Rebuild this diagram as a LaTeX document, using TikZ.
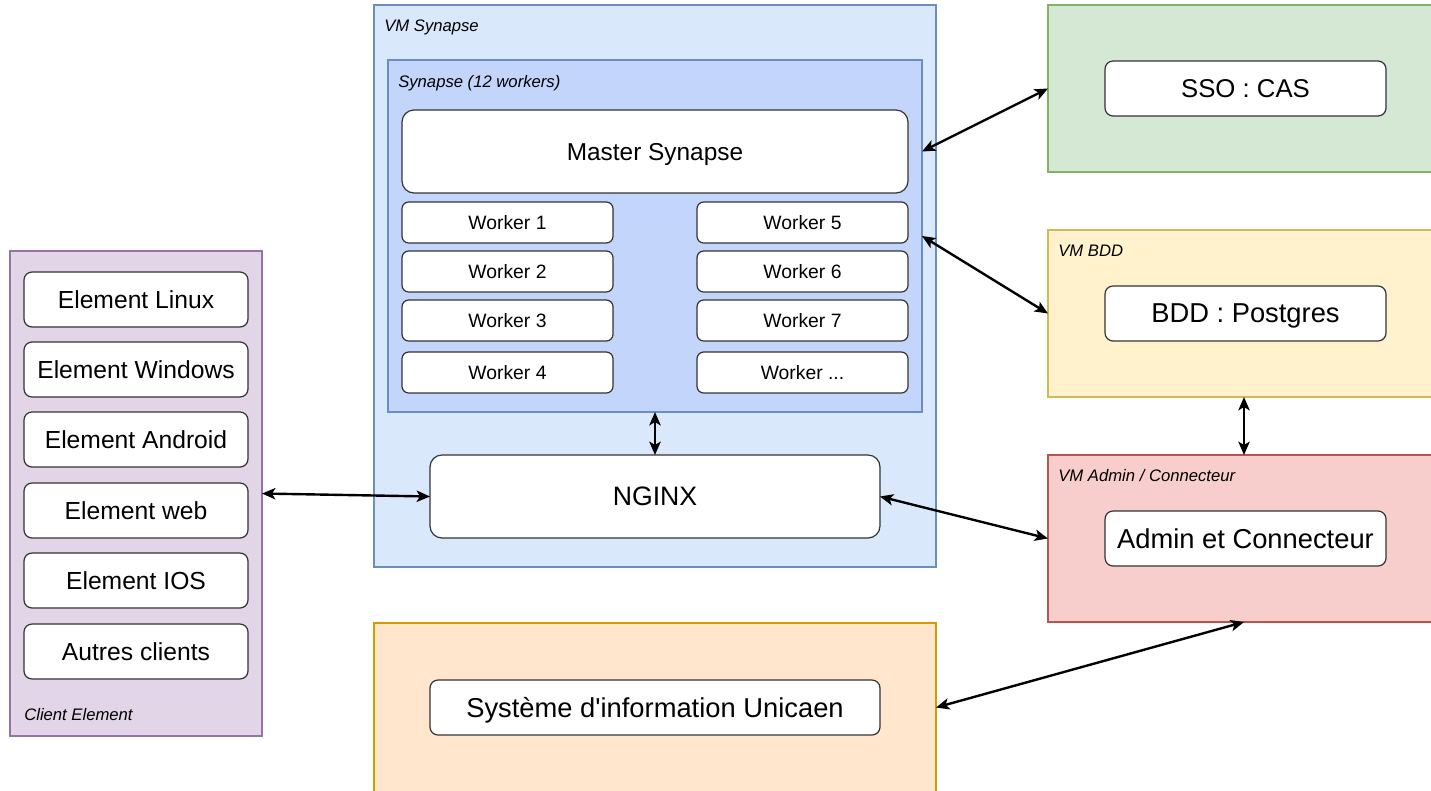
\documentclass[tikz,border=0pt]{standalone}
\usepackage{fontspec}
\setmainfont{Liberation Sans}
\usetikzlibrary{arrows.meta}
\definecolor{synfill}{HTML}{DAE8FC}
\definecolor{syndraw}{HTML}{6C8EBF}
\definecolor{workfill}{HTML}{C3D5FB}
\definecolor{clifill}{HTML}{E1D5E7}
\definecolor{clidraw}{HTML}{9673A6}
\definecolor{ssofill}{HTML}{D5E8D4}
\definecolor{ssodraw}{HTML}{82B366}
\definecolor{bddfill}{HTML}{FFF2CC}
\definecolor{bdddraw}{HTML}{D6B656}
\definecolor{admfill}{HTML}{F8CECC}
\definecolor{admdraw}{HTML}{B85450}
\definecolor{sifill}{HTML}{FFE6CC}
\definecolor{sidraw}{HTML}{D79B00}
\definecolor{itemdraw}{HTML}{333333}
\newcommand{\pxu}{0.75pt}

\begin{document}
\begin{tikzpicture}[x=\pxu, y=-\pxu,
	box/.style={draw, rectangle, inner sep=0pt, outer sep=0pt, line width=0.9pt},
	item/.style={box, draw=itemdraw, fill=white, rounded corners=6pt, minimum width=224*\pxu, minimum height=55*\pxu, text depth=-2pt, font=\fontsize{18.5pt}{22pt}\selectfont},
	service/.style={item, minimum width=281*\pxu, font=\fontsize{20.5pt}{24pt}\selectfont},
	worker/.style={item, minimum width=211*\pxu, minimum height=41*\pxu, rounded corners=5pt, font=\fontsize{14.5pt}{17pt}\selectfont},
	tag/.style={anchor=base west, inner sep=0pt, font=\fontsize{12.5pt}{15pt}\selectfont\itshape},
	link/.style={{Stealth[length=10pt,width=8.5pt,inset=2.5pt]}-{Stealth[length=10pt,width=8.5pt,inset=2.5pt]}, line width=1.8pt}]
	\useasboundingbox (0,0) rectangle (1431,790);
	% VM Synapse
	\node[box, fill=synfill, draw=syndraw, minimum width=562*\pxu, minimum height=562*\pxu] (vmsyn) at (655,286) {};
	\node[tag] (vmsyntag) at (384,31) {VM Synapse};
	\node[box, fill=workfill, draw=syndraw, minimum width=534*\pxu, minimum height=352*\pxu] (synapse) at (655,236) {};
	\node[tag] (syntag) at (398,87) {Synapse (12 workers)};
	\node[item, minimum width=506*\pxu, minimum height=83*\pxu, rounded corners=9pt, font=\fontsize{18.3pt}{22pt}\selectfont] (master) at (655,151.5) {Master Synapse};
	\foreach \n/\y in {1/222.5, 2/271.5, 3/320.5, 4/372.5}
		\node[worker] (w\n) at (507.5,\y) {Worker \n};
	\foreach \n/\y in {5/222.5, 6/271.5, 7/320.5}
		\node[worker] (w\n) at (802.5,\y) {Worker \n};
	\node[worker] (w8) at (802.5,372.5) {Worker ...};
	\node[item, minimum width=450*\pxu, minimum height=83*\pxu, rounded corners=9pt, font=\fontsize{20pt}{24pt}\selectfont] (nginx) at (655,496.5) {NGINX};
	% clients
	\node[box, fill=clifill, draw=clidraw, minimum width=252*\pxu, minimum height=485*\pxu] (client) at (136,493.5) {};
	\node[tag] (clitag) at (24,720) {Client Element};
	\foreach \i/\t/\y in {1/Linux/299.5, 2/Windows/369.5, 3/Android/439.5, 4/web/510.5, 5/IOS/580.5}
		\node[item] (el\i) at (136,\y) {Element \t};
	\node[item] (autres) at (136,651.5) {Autres clients};
	% right column
	\node[box, fill=ssofill, draw=ssodraw, minimum width=392*\pxu, minimum height=167*\pxu] (ssobox) at (1244,88.5) {};
	\node[service, font=\fontsize{19.3pt}{23pt}\selectfont] (sso) at (1245.5,88.5) {SSO : CAS};
	\node[box, fill=bddfill, draw=bdddraw, minimum width=392*\pxu, minimum height=167*\pxu] (bddbox) at (1244,313.5) {};
	\node[tag] (bddtag) at (1058,256) {VM BDD};
	\node[service] (bdd) at (1245.5,313.5) {BDD : Postgres};
	\node[box, fill=admfill, draw=admdraw, minimum width=392*\pxu, minimum height=167*\pxu] (admbox) at (1244,538.5) {};
	\node[tag] (admtag) at (1058,481) {VM Admin / Connecteur};
	\node[service] (adm) at (1245.5,538.5) {Admin et Connecteur};
	% SI Unicaen
	\node[box, fill=sifill, draw=sidraw, minimum width=562*\pxu, minimum height=177*\pxu] (sibox) at (655,711.5) {};
	\node[service, minimum width=450*\pxu] (si) at (655,707.5) {Système d\textquotesingle information Unicaen};
	% links
	\draw[link] (client.east) -- (nginx.west);
	\draw[link] (synapse.south) -- (nginx.north);
	\draw[link] (synapse.east |- master) -- (ssobox.west);
	\draw[link] (synapse.east) -- (bddbox.west);
	\draw[link] (nginx.east) -- (admbox.west);
	\draw[link] (bddbox.south) -- (admbox.north);
	\draw[link] (sibox.east |- si) -- (admbox.south);
\end{tikzpicture}
\end{document}
